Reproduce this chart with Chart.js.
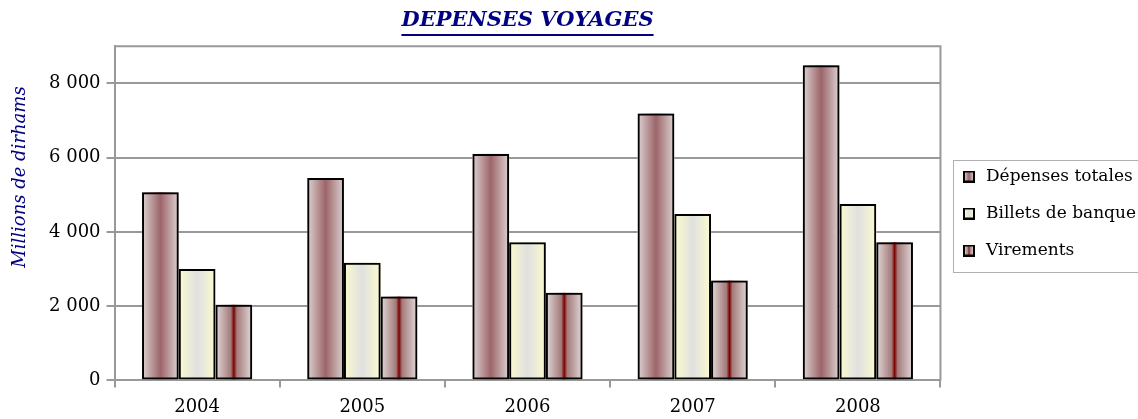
<!DOCTYPE html>
<html>
<head>
<meta charset="utf-8">
<script src="https://cdn.jsdelivr.net/npm/chart.js@4/dist/chart.umd.min.js"></script>
<style>
  html, body { margin: 0; padding: 0; background: #fff; }
  #wrap { width: 1138px; height: 419px; }
</style>
</head>
<body>
<div id="wrap"><canvas id="chart"></canvas></div>
<script>
// Données (millions de dirhams)
const annees = ['2004', '2005', '2006', '2007', '2008'];
const depensesTotales = [5070, 5450, 6100, 7190, 8490];
const billetsBanque = [3000, 3170, 3720, 4480, 4750];
const virements = [2040, 2260, 2360, 2690, 3720];
const ticksY = [0, 2000, 4000, 6000, 8000];

const serif = 'DejaVu Serif';
const bleu = '#000080';
const gris = '#999999';

// Dégradés horizontaux de chaque série
const degrades = [
  [[0, '#ddd3d3'], [0.5, '#9c6569'], [1, '#ddd3d3']],
  [[0, '#fbfbcf'], [0.5, '#e0e0e0'], [1, '#fbfbcf']],
  [[0, '#e2dada'], [0.42, '#a47a7a'], [0.5, '#7d0000'], [0.58, '#a47a7a'], [1, '#e2dada']]
];

function remplir(ctx, x0, x1, stops) {
  const g = ctx.createLinearGradient(x0, 0, x1, 0);
  stops.forEach(s => g.addColorStop(s[0], s[1]));
  return g;
}

// Petites icônes de légende (carré dégradé bordé de noir)
function icone(stops) {
  const c = document.createElement('canvas');
  c.width = 12; c.height = 12;
  const ctx = c.getContext('2d');
  ctx.fillStyle = remplir(ctx, 1, 11, stops);
  ctx.fillRect(1, 1, 10, 10);
  ctx.strokeStyle = '#000';
  ctx.lineWidth = 2;
  ctx.strokeRect(1, 1, 10, 10);
  return c;
}

function milliers(v) {
  return String(v).replace(/\B(?=(\d{3})+(?!\d))/g, ' ');
}

// Remplit les barres avec un dégradé, en se basant sur leur géométrie
const degradeBarres = {
  id: 'degradeBarres',
  beforeDatasetsDraw(chart) {
    const ctx = chart.ctx;
    chart.data.datasets.forEach((ds, i) => {
      const meta = chart.getDatasetMeta(i);
      meta.data.forEach(bar => {
        const x0 = bar.x - bar.width / 2;
        const x1 = bar.x + bar.width / 2;
        ctx.save();
        ctx.fillStyle = remplir(ctx, x0, x1, degrades[i]);
        ctx.fillRect(x0, bar.y, bar.width, bar.base - bar.y);
        ctx.restore();
      });
    });
  }
};

// Cadre de la zone de tracé, soulignement du titre, titre de l'axe Y, cadre de légende
const decor = {
  id: 'decor',
  beforeDatasetsDraw(chart) {
    const { ctx, chartArea: a } = chart;
    ctx.save();
    ctx.strokeStyle = gris;
    ctx.lineWidth = 2;
    ctx.beginPath();
    ctx.moveTo(a.left, a.top);
    ctx.lineTo(a.right, a.top);
    ctx.lineTo(a.right, a.bottom);
    ctx.stroke();
    ctx.restore();
  },
  afterDraw(chart) {
    const { ctx } = chart;
    ctx.save();
    // soulignement du titre
    const t = chart.titleBlock;
    ctx.font = 'italic bold 21px "' + serif + '"';
    const w = ctx.measureText(t.options.text).width;
    const cx = (t.left + t.right) / 2;
    ctx.strokeStyle = bleu;
    ctx.lineWidth = 2;
    ctx.beginPath();
    ctx.moveTo(cx - w / 2, 35);
    ctx.lineTo(cx + w / 2, 35);
    ctx.stroke();
    // titre de l'axe Y
    ctx.translate(20, 177);
    ctx.rotate(-Math.PI / 2);
    ctx.font = 'italic 18px "' + serif + '"';
    ctx.fillStyle = bleu;
    ctx.textAlign = 'center';
    ctx.textBaseline = 'middle';
    ctx.fillText('Millions de dirhams', 0, 0);
    ctx.restore();
    // cadre de la légende
    const boxes = chart.legend.legendHitBoxes;
    if (boxes.length) {
      const premier = boxes[0];
      const dernier = boxes[boxes.length - 1];
      const x = premier.left - 7;
      const y0 = premier.top + premier.height / 2 - 17;
      const y1 = dernier.top + dernier.height / 2 + 21;
      ctx.save();
      ctx.strokeStyle = '#b0b0b0';
      ctx.lineWidth = 1;
      ctx.strokeRect(Math.round(x) + 0.5, Math.round(y0) + 0.5, 400, Math.round(y1 - y0));
      ctx.restore();
    }
  }
};

new Chart(document.getElementById('chart'), {
  type: 'bar',
  data: {
    labels: annees,
    datasets: [
      { label: 'Dépenses totales', data: depensesTotales, pointStyle: icone(degrades[0]) },
      { label: 'Billets de banque', data: billetsBanque, pointStyle: icone(degrades[1]) },
      { label: 'Virements', data: virements, pointStyle: icone(degrades[2]) }
    ].map(ds => Object.assign(ds, {
      backgroundColor: 'rgba(0,0,0,0)',
      borderColor: '#000',
      borderWidth: 2,
      borderSkipped: false,
      categoryPercentage: 0.667,
      barPercentage: 1
    }))
  },
  options: {
    responsive: true,
    maintainAspectRatio: false,
    animation: false,
    devicePixelRatio: 1,
    layout: { padding: { left: 43, right: -8, top: 0, bottom: -8 } },
    plugins: {
      title: {
        display: true,
        text: 'DEPENSES VOYAGES',
        fullSize: false,
        color: bleu,
        font: { family: serif, size: 21, style: 'italic', weight: 'bold', lineHeight: 1.2 },
        padding: { top: 8, bottom: 13 }
      },
      legend: {
        position: 'right',
        labels: {
          usePointStyle: true,
          color: '#000',
          padding: 20,
          font: { family: serif, size: 17 }
        }
      },
      tooltip: { enabled: false }
    },
    scales: {
      x: {
        grid: { offset: true, drawOnChartArea: false, color: gris, lineWidth: 2, tickLength: 7 },
        border: { color: gris, width: 2 },
        ticks: { color: '#000', padding: 9, font: { family: serif, size: 18 } }
      },
      y: {
        min: 0,
        max: 9000,
        afterBuildTicks: s => { s.ticks = ticksY.map(v => ({ value: v })); },
        grid: { color: gris, lineWidth: 2, tickLength: 8 },
        border: { color: gris, width: 2 },
        ticks: { color: '#000', padding: 6, font: { family: serif, size: 18 }, callback: v => milliers(v) }
      }
    }
  },
  plugins: [degradeBarres, decor]
});
</script>
</body>
</html>
